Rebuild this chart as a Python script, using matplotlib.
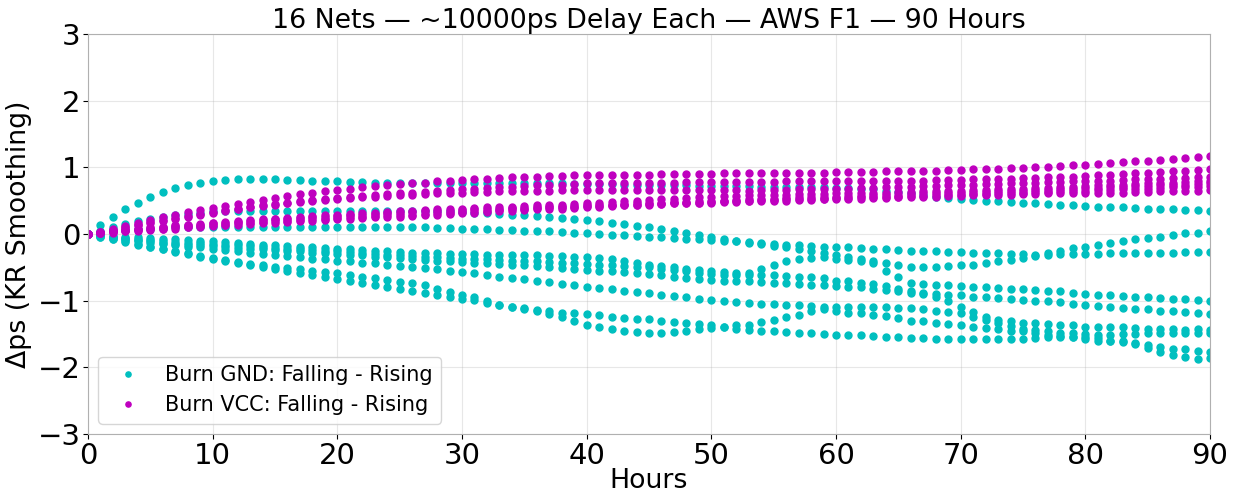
import numpy as np
import matplotlib.pyplot as plt

hours = list(range(91))

# Burn GND nets (Falling - Rising), one value per hour
gnd_1 = [0.00, 0.13, 0.26, 0.37, 0.47, 0.56, 0.63, 0.69, 0.74, 0.77,
         0.80, 0.81, 0.82, 0.82, 0.82, 0.82, 0.81, 0.81, 0.80, 0.80,
         0.79, 0.78, 0.78, 0.77, 0.77, 0.77, 0.77, 0.77, 0.77, 0.77,
         0.77, 0.77, 0.77, 0.77, 0.77, 0.76, 0.76, 0.76, 0.76, 0.75,
         0.75, 0.75, 0.75, 0.74, 0.74, 0.74, 0.73, 0.73, 0.73, 0.72,
         0.72, 0.72, 0.72, 0.72, 0.71, 0.71, 0.71, 0.70, 0.70, 0.70,
         0.69, 0.69, 0.68, 0.67, 0.65, 0.63, 0.61, 0.58, 0.56, 0.54,
         0.52, 0.51, 0.50, 0.49, 0.48, 0.47, 0.46, 0.45, 0.44, 0.43,
         0.42, 0.41, 0.40, 0.40, 0.39, 0.38, 0.38, 0.37, 0.36, 0.36, 0.35]
gnd_2 = [0.00, 0.05, 0.10, 0.15, 0.19, 0.22, 0.25, 0.28, 0.30, 0.32,
         0.34, 0.35, 0.35, 0.35, 0.35, 0.35, 0.35, 0.35, 0.35, 0.35,
         0.35, 0.35, 0.35, 0.35, 0.35, 0.35, 0.35, 0.35, 0.34, 0.34,
         0.33, 0.32, 0.31, 0.30, 0.29, 0.28, 0.27, 0.25, 0.24, 0.22,
         0.21, 0.19, 0.17, 0.15, 0.12, 0.10, 0.07, 0.04, 0.02, -0.01,
         -0.04, -0.07, -0.10, -0.12, -0.14, -0.15, -0.16, -0.17, -0.18, -0.19,
         -0.19, -0.20, -0.21, -0.22, -0.23, -0.24, -0.25, -0.26, -0.26, -0.27,
         -0.27, -0.28, -0.29, -0.29, -0.30, -0.30, -0.31, -0.29, -0.25, -0.21,
         -0.20, -0.17, -0.14, -0.11, -0.08, -0.06, -0.04, -0.01, 0.01, 0.02, 0.05]
gnd_3 = [0.00, 0.02, 0.04, 0.06, 0.07, 0.08, 0.09, 0.10, 0.10, 0.10,
         0.10, 0.11, 0.11, 0.11, 0.11, 0.11, 0.11, 0.11, 0.11, 0.11,
         0.11, 0.11, 0.11, 0.11, 0.10, 0.10, 0.10, 0.10, 0.09, 0.09,
         0.08, 0.08, 0.07, 0.06, 0.06, 0.05, 0.04, 0.04, 0.03, 0.02,
         0.01, 0.00, -0.01, -0.02, -0.03, -0.04, -0.05, -0.06, -0.07, -0.08,
         -0.09, -0.10, -0.11, -0.13, -0.15, -0.18, -0.20, -0.23, -0.26, -0.28,
         -0.31, -0.34, -0.37, -0.40, -0.44, -0.47, -0.49, -0.49, -0.49, -0.48,
         -0.47, -0.46, -0.44, -0.41, -0.39, -0.36, -0.33, -0.31, -0.30, -0.30,
         -0.30, -0.30, -0.29, -0.29, -0.29, -0.28, -0.28, -0.28, -0.27, -0.27, -0.27]
gnd_4 = [0.00, -0.01, -0.03, -0.04, -0.05, -0.06, -0.07, -0.08, -0.09, -0.10,
         -0.11, -0.12, -0.13, -0.15, -0.16, -0.17, -0.18, -0.19, -0.20, -0.21,
         -0.22, -0.23, -0.24, -0.25, -0.26, -0.27, -0.28, -0.29, -0.29, -0.30,
         -0.30, -0.30, -0.31, -0.31, -0.31, -0.32, -0.32, -0.33, -0.33, -0.34,
         -0.34, -0.36, -0.38, -0.41, -0.44, -0.46, -0.48, -0.50, -0.52, -0.54,
         -0.55, -0.57, -0.58, -0.59, -0.52, -0.46, -0.41, -0.37, -0.36, -0.35,
         -0.37, -0.39, -0.41, -0.43, -0.55, -0.65, -0.74, -0.75, -0.76, -0.77,
         -0.78, -0.79, -0.80, -0.81, -0.82, -0.83, -0.84, -0.85, -0.86, -0.88,
         -0.90, -0.91, -0.92, -0.93, -0.94, -0.95, -0.96, -0.97, -0.98, -0.99, -1.00]
gnd_5 = [0.00, -0.02, -0.04, -0.06, -0.08, -0.09, -0.11, -0.12, -0.13, -0.14,
         -0.15, -0.16, -0.17, -0.18, -0.19, -0.21, -0.22, -0.23, -0.24, -0.25,
         -0.26, -0.27, -0.28, -0.30, -0.31, -0.32, -0.33, -0.34, -0.35, -0.36,
         -0.37, -0.37, -0.38, -0.39, -0.40, -0.41, -0.41, -0.42, -0.43, -0.44,
         -0.45, -0.46, -0.47, -0.48, -0.49, -0.50, -0.52, -0.54, -0.56, -0.58,
         -0.60, -0.61, -0.61, -0.61, -0.62, -0.62, -0.63, -0.64, -0.65, -0.66,
         -0.70, -0.71, -0.73, -0.75, -0.78, -0.82, -0.86, -0.90, -0.94, -1.01,
         -1.09, -1.17, -1.24, -1.29, -1.31, -1.33, -1.34, -1.35, -1.36, -1.37,
         -1.39, -1.39, -1.40, -1.40, -1.41, -1.42, -1.42, -1.43, -1.44, -1.43, -1.44]
gnd_6 = [0.00, -0.02, -0.05, -0.07, -0.09, -0.11, -0.13, -0.15, -0.16, -0.17,
         -0.18, -0.19, -0.21, -0.22, -0.23, -0.24, -0.25, -0.26, -0.28, -0.29,
         -0.30, -0.31, -0.32, -0.34, -0.35, -0.36, -0.37, -0.39, -0.40, -0.41,
         -0.42, -0.43, -0.44, -0.45, -0.46, -0.47, -0.48, -0.50, -0.51, -0.52,
         -0.54, -0.55, -0.56, -0.57, -0.59, -0.60, -0.62, -0.64, -0.66, -0.68,
         -0.69, -0.70, -0.71, -0.71, -0.72, -0.73, -0.74, -0.75, -0.76, -0.77,
         -0.78, -0.79, -0.80, -0.82, -0.84, -0.86, -0.89, -0.89, -0.90, -0.91,
         -0.92, -0.94, -0.95, -0.96, -0.97, -0.99, -1.00, -1.01, -1.02, -1.05,
         -1.06, -1.08, -1.09, -1.11, -1.12, -1.13, -1.15, -1.16, -1.17, -1.19, -1.20]
gnd_7 = [0.00, -0.03, -0.06, -0.08, -0.11, -0.13, -0.15, -0.17, -0.19, -0.20,
         -0.22, -0.24, -0.26, -0.28, -0.30, -0.32, -0.33, -0.35, -0.37, -0.38,
         -0.40, -0.41, -0.43, -0.44, -0.46, -0.48, -0.49, -0.51, -0.53, -0.55,
         -0.57, -0.59, -0.62, -0.64, -0.66, -0.68, -0.70, -0.72, -0.75, -0.77,
         -0.79, -0.81, -0.83, -0.85, -0.87, -0.89, -0.91, -0.93, -0.95, -0.97,
         -0.99, -1.01, -1.02, -1.04, -1.05, -1.05, -1.06, -1.07, -1.08, -1.09,
         -1.09, -1.10, -1.10, -1.10, -1.10, -1.11, -1.11, -1.13, -1.15, -1.17,
         -1.19, -1.24, -1.29, -1.34, -1.38, -1.42, -1.44, -1.46, -1.48, -1.49,
         -1.50, -1.51, -1.52, -1.50, -1.50, -1.49, -1.49, -1.49, -1.48, -1.48, -1.48]
gnd_8 = [0.00, -0.04, -0.08, -0.11, -0.15, -0.19, -0.22, -0.26, -0.29, -0.33,
         -0.36, -0.39, -0.42, -0.45, -0.47, -0.49, -0.51, -0.53, -0.55, -0.57,
         -0.59, -0.61, -0.64, -0.66, -0.69, -0.72, -0.74, -0.77, -0.82, -0.87,
         -0.91, -0.95, -1.01, -1.06, -1.09, -1.12, -1.16, -1.20, -1.25, -1.31,
         -1.36, -1.39, -1.42, -1.45, -1.47, -1.49, -1.48, -1.47, -1.45, -1.43,
         -1.41, -1.39, -1.37, -1.36, -1.32, -1.29, -1.25, -1.21, -1.16, -1.13,
         -1.15, -1.18, -1.19, -1.21, -1.23, -1.26, -1.30, -1.31, -1.33, -1.35,
         -1.37, -1.39, -1.41, -1.43, -1.45, -1.46, -1.49, -1.51, -1.53, -1.54,
         -1.54, -1.56, -1.60, -1.61, -1.63, -1.67, -1.70, -1.72, -1.73, -1.75, -1.77]
gnd_9 = [0.00, -0.04, -0.08, -0.12, -0.16, -0.20, -0.23, -0.27, -0.30, -0.34,
         -0.37, -0.40, -0.43, -0.47, -0.50, -0.53, -0.56, -0.59, -0.62, -0.64,
         -0.67, -0.70, -0.73, -0.76, -0.79, -0.83, -0.86, -0.89, -0.92, -0.94,
         -0.97, -0.99, -1.03, -1.06, -1.09, -1.11, -1.14, -1.16, -1.18, -1.19,
         -1.20, -1.22, -1.24, -1.26, -1.27, -1.28, -1.30, -1.32, -1.34, -1.35,
         -1.37, -1.39, -1.42, -1.44, -1.45, -1.46, -1.47, -1.48, -1.49, -1.50,
         -1.51, -1.52, -1.52, -1.53, -1.54, -1.55, -1.56, -1.56, -1.57, -1.57,
         -1.57, -1.57, -1.57, -1.57, -1.57, -1.57, -1.56, -1.55, -1.54, -1.54,
         -1.57, -1.60, -1.61, -1.62, -1.65, -1.71, -1.77, -1.81, -1.85, -1.87, -1.86]

# Burn VCC nets (Falling - Rising)
vcc_1 = [0.00, 0.03, 0.07, 0.12, 0.17, 0.21, 0.25, 0.29, 0.33, 0.36,
         0.39, 0.42, 0.45, 0.48, 0.51, 0.54, 0.57, 0.60, 0.62, 0.64,
         0.66, 0.68, 0.70, 0.72, 0.73, 0.75, 0.76, 0.77, 0.79, 0.80,
         0.81, 0.82, 0.83, 0.84, 0.85, 0.86, 0.86, 0.87, 0.87, 0.88,
         0.88, 0.88, 0.89, 0.89, 0.89, 0.89, 0.90, 0.90, 0.90, 0.90,
         0.90, 0.91, 0.91, 0.91, 0.91, 0.91, 0.92, 0.92, 0.92, 0.92,
         0.93, 0.93, 0.93, 0.93, 0.94, 0.94, 0.94, 0.95, 0.95, 0.96,
         0.96, 0.97, 0.97, 0.98, 0.99, 0.99, 1.00, 1.01, 1.02, 1.03,
         1.04, 1.05, 1.06, 1.08, 1.09, 1.10, 1.11, 1.12, 1.14, 1.15, 1.17]
vcc_2 = [0.00, 0.03, 0.06, 0.10, 0.14, 0.18, 0.21, 0.24, 0.27, 0.30,
         0.33, 0.36, 0.38, 0.41, 0.43, 0.45, 0.47, 0.49, 0.51, 0.53,
         0.54, 0.56, 0.57, 0.59, 0.60, 0.61, 0.62, 0.63, 0.65, 0.66,
         0.67, 0.68, 0.69, 0.70, 0.71, 0.72, 0.73, 0.74, 0.74, 0.75,
         0.76, 0.76, 0.76, 0.77, 0.77, 0.77, 0.77, 0.77, 0.78, 0.78,
         0.78, 0.78, 0.78, 0.78, 0.78, 0.78, 0.79, 0.79, 0.79, 0.79,
         0.79, 0.79, 0.80, 0.80, 0.80, 0.80, 0.80, 0.80, 0.81, 0.81,
         0.81, 0.82, 0.82, 0.83, 0.83, 0.84, 0.84, 0.85, 0.85, 0.86,
         0.87, 0.88, 0.89, 0.90, 0.91, 0.92, 0.93, 0.94, 0.95, 0.96, 0.97]
vcc_3 = [0.00, 0.03, 0.06, 0.09, 0.13, 0.17, 0.20, 0.23, 0.26, 0.29,
         0.32, 0.35, 0.37, 0.40, 0.42, 0.44, 0.46, 0.48, 0.50, 0.51,
         0.53, 0.54, 0.55, 0.56, 0.57, 0.58, 0.59, 0.60, 0.61, 0.62,
         0.62, 0.63, 0.63, 0.64, 0.64, 0.65, 0.65, 0.65, 0.66, 0.66,
         0.66, 0.66, 0.66, 0.66, 0.66, 0.66, 0.66, 0.66, 0.66, 0.66,
         0.66, 0.66, 0.66, 0.65, 0.66, 0.66, 0.66, 0.67, 0.67, 0.67,
         0.68, 0.68, 0.69, 0.69, 0.70, 0.70, 0.71, 0.72, 0.72, 0.73,
         0.73, 0.74, 0.75, 0.75, 0.76, 0.76, 0.77, 0.78, 0.78, 0.79,
         0.79, 0.80, 0.80, 0.81, 0.82, 0.82, 0.83, 0.84, 0.84, 0.85, 0.86]
vcc_4 = [0.00, 0.02, 0.04, 0.06, 0.08, 0.10, 0.11, 0.13, 0.14, 0.15,
         0.16, 0.18, 0.19, 0.21, 0.22, 0.23, 0.24, 0.26, 0.27, 0.28,
         0.29, 0.30, 0.31, 0.32, 0.33, 0.34, 0.35, 0.36, 0.37, 0.37,
         0.38, 0.39, 0.40, 0.40, 0.41, 0.42, 0.43, 0.43, 0.44, 0.45,
         0.46, 0.47, 0.48, 0.49, 0.50, 0.51, 0.52, 0.53, 0.54, 0.55,
         0.56, 0.57, 0.57, 0.58, 0.58, 0.59, 0.59, 0.60, 0.60, 0.60,
         0.61, 0.61, 0.61, 0.62, 0.62, 0.63, 0.63, 0.64, 0.64, 0.65,
         0.65, 0.66, 0.66, 0.67, 0.67, 0.68, 0.69, 0.69, 0.70, 0.71,
         0.72, 0.73, 0.74, 0.74, 0.75, 0.76, 0.77, 0.77, 0.78, 0.79, 0.80]
vcc_5 = [0.00, 0.02, 0.04, 0.06, 0.07, 0.09, 0.10, 0.12, 0.13, 0.14,
         0.16, 0.17, 0.18, 0.20, 0.21, 0.22, 0.23, 0.24, 0.25, 0.26,
         0.27, 0.28, 0.29, 0.30, 0.31, 0.32, 0.33, 0.34, 0.35, 0.35,
         0.36, 0.37, 0.37, 0.38, 0.39, 0.39, 0.40, 0.41, 0.41, 0.42,
         0.43, 0.44, 0.44, 0.45, 0.46, 0.46, 0.47, 0.48, 0.48, 0.49,
         0.50, 0.50, 0.51, 0.52, 0.53, 0.53, 0.54, 0.55, 0.55, 0.56,
         0.56, 0.57, 0.57, 0.58, 0.59, 0.59, 0.60, 0.61, 0.61, 0.62,
         0.62, 0.63, 0.63, 0.64, 0.65, 0.65, 0.66, 0.66, 0.67, 0.68,
         0.69, 0.69, 0.70, 0.71, 0.72, 0.72, 0.73, 0.74, 0.74, 0.75, 0.76]
vcc_6 = [0.00, 0.01, 0.03, 0.04, 0.06, 0.07, 0.08, 0.10, 0.11, 0.12,
         0.13, 0.14, 0.16, 0.17, 0.18, 0.19, 0.20, 0.21, 0.22, 0.23,
         0.24, 0.25, 0.26, 0.27, 0.28, 0.28, 0.29, 0.30, 0.31, 0.32,
         0.33, 0.34, 0.35, 0.36, 0.37, 0.38, 0.39, 0.40, 0.40, 0.41,
         0.42, 0.42, 0.43, 0.44, 0.44, 0.45, 0.45, 0.46, 0.46, 0.47,
         0.47, 0.48, 0.48, 0.49, 0.49, 0.50, 0.50, 0.51, 0.51, 0.52,
         0.52, 0.53, 0.53, 0.54, 0.54, 0.55, 0.55, 0.56, 0.56, 0.57,
         0.57, 0.58, 0.58, 0.59, 0.59, 0.60, 0.60, 0.61, 0.61, 0.62,
         0.61, 0.61, 0.62, 0.62, 0.63, 0.63, 0.64, 0.64, 0.65, 0.65, 0.66]
vcc_7 = [0.00, 0.01, 0.02, 0.04, 0.05, 0.06, 0.07, 0.08, 0.10, 0.11,
         0.12, 0.13, 0.14, 0.15, 0.16, 0.17, 0.18, 0.19, 0.20, 0.21,
         0.22, 0.23, 0.24, 0.25, 0.25, 0.26, 0.27, 0.28, 0.29, 0.30,
         0.31, 0.32, 0.33, 0.34, 0.35, 0.36, 0.37, 0.37, 0.38, 0.39,
         0.40, 0.41, 0.42, 0.43, 0.43, 0.44, 0.45, 0.46, 0.47, 0.47,
         0.48, 0.49, 0.49, 0.50, 0.51, 0.51, 0.52, 0.52, 0.53, 0.53,
         0.54, 0.54, 0.55, 0.55, 0.56, 0.56, 0.57, 0.57, 0.58, 0.59,
         0.59, 0.60, 0.60, 0.61, 0.61, 0.62, 0.63, 0.63, 0.64, 0.65,
         0.65, 0.66, 0.66, 0.67, 0.68, 0.68, 0.69, 0.70, 0.70, 0.71, 0.72]

gnd_nets = [gnd_1, gnd_2, gnd_3, gnd_4, gnd_5, gnd_6, gnd_7, gnd_8, gnd_9]
vcc_nets = [vcc_1, vcc_2, vcc_3, vcc_4, vcc_5, vcc_6, vcc_7]

fig, ax = plt.subplots(figsize=(12.38, 4.95), dpi=100)
fig.subplots_adjust(left=0.0711, right=0.9774, top=0.9313, bottom=0.1232)

for i, net in enumerate(gnd_nets):
    ax.plot(hours[:len(net)], net, 'o', color='c', markersize=5,
            label='Burn GND: Falling - Rising' if i == 0 else None)
for i, net in enumerate(vcc_nets):
    ax.plot(hours[:len(net)], net, 'o', color='m', markersize=5,
            label='Burn VCC: Falling - Rising' if i == 0 else None)

ax.set_xlim(0, 90)
ax.set_ylim(-3, 3)
ax.set_title('16 Nets — ~10000ps Delay Each — AWS F1 — 90 Hours', fontsize=19.3, pad=4)
ax.set_xlabel('Hours', fontsize=19.3, labelpad=-1)
ax.set_ylabel('Δps (KR Smoothing)', fontsize=19.3)
ax.tick_params(labelsize=21, pad=2)
ax.grid(True, alpha=0.3)
for s in ax.spines.values():
    s.set_color('#b0b0b0')
ax.legend(loc='lower left', fontsize=15, markerscale=0.75)

fig.savefig('out.png')
